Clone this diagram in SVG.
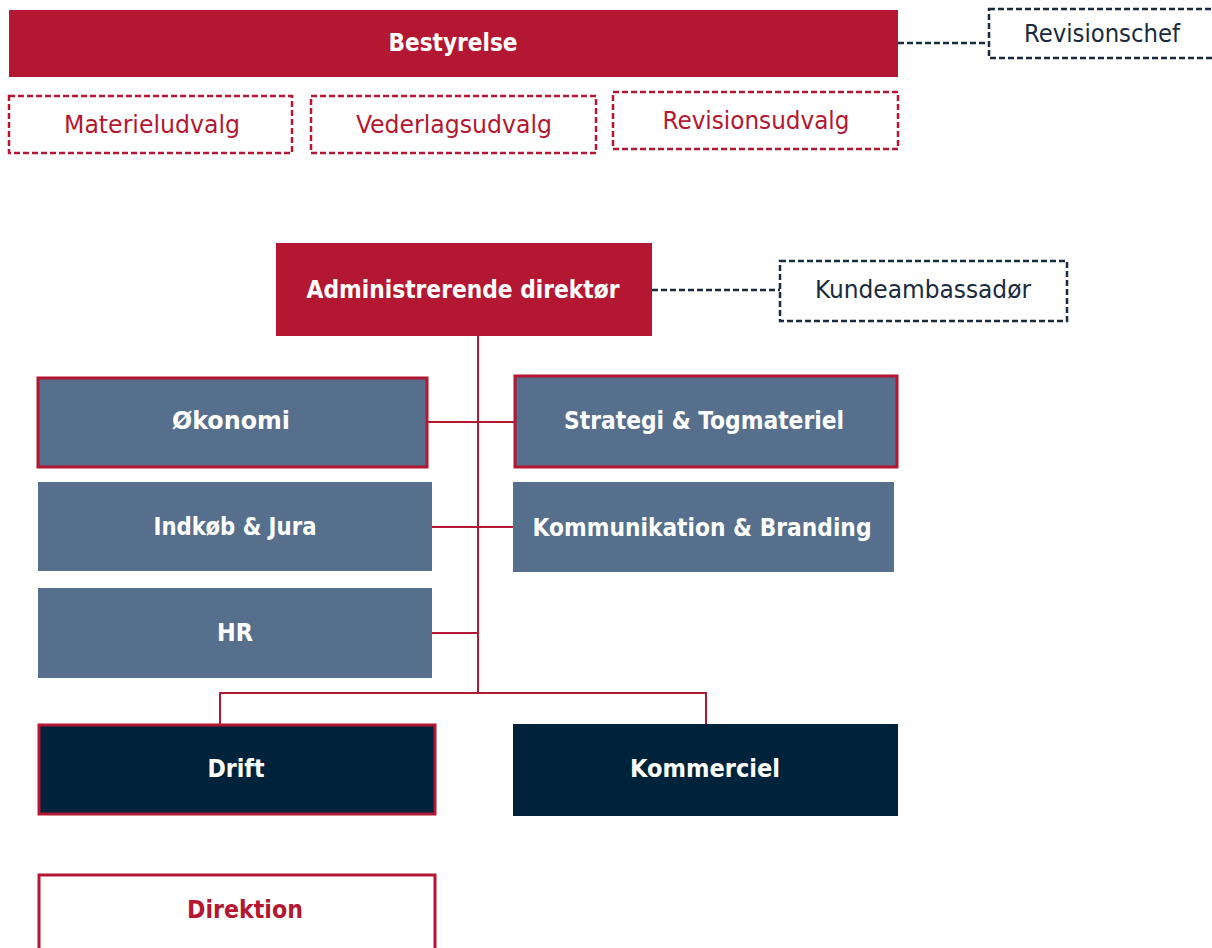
<svg xmlns="http://www.w3.org/2000/svg" width="1212" height="948" viewBox="0 0 1212 948">
<style>
.t{font-family:"DejaVu Sans Condensed","Liberation Sans",sans-serif;font-size:24px;text-anchor:middle;dominant-baseline:central}
.b{font-weight:bold;fill:#fff}
.red{fill:#B31731}
.navy{fill:#1A2B40}
.dr{fill:#fff;stroke:#B31731;stroke-width:2.5;stroke-dasharray:6 3}
.dn{fill:#fff;stroke:#1A2B40;stroke-width:2.5;stroke-dasharray:6 3}
.mid{fill:#566F8C}
.dark{fill:#00233C}
.rb{stroke:#B31731;stroke-width:3}
.ln{stroke:#B31731;stroke-width:2;fill:none}
.dl{stroke:#1A2B40;stroke-width:2.5;stroke-dasharray:6 3;fill:none}
</style>
<rect width="1212" height="948" fill="#fff"/>
<g id="connectors">
<path class="dl" d="M898 43H989"/>
<path class="dl" d="M652 290H780"/>
<path class="ln" d="M478 336V693"/>
<path class="ln" d="M427 422H514"/>
<path class="ln" d="M432 527H513"/>
<path class="ln" d="M432 633H478"/>
<path class="ln" d="M220 724V693H706V724"/>
</g>
<g id="bestyrelse"><rect x="9" y="10" width="889" height="67" fill="#B31731"/><text class="t b" x="453" y="43" textLength="129" lengthAdjust="spacingAndGlyphs">Bestyrelse</text></g>
<g id="revisionschef"><rect class="dn" x="989" y="9" width="240" height="49"/><text class="t navy" x="1102" y="34" textLength="156" lengthAdjust="spacingAndGlyphs">Revisionschef</text></g>
<g id="materieludvalg"><rect class="dr" x="9" y="96" width="283" height="57"/><text class="t red" x="152" y="125" textLength="176" lengthAdjust="spacingAndGlyphs">Materieludvalg</text></g>
<g id="vederlagsudvalg"><rect class="dr" x="311" y="96" width="285" height="57"/><text class="t red" x="454" y="125" textLength="196" lengthAdjust="spacingAndGlyphs">Vederlagsudvalg</text></g>
<g id="revisionsudvalg"><rect class="dr" x="613" y="92" width="285" height="57"/><text class="t red" x="756" y="121" textLength="187" lengthAdjust="spacingAndGlyphs">Revisionsudvalg</text></g>
<g id="adm"><rect x="276" y="243" width="376" height="93" fill="#B31731"/><text class="t b" x="463" y="290" textLength="313" lengthAdjust="spacingAndGlyphs">Administrerende direktør</text></g>
<g id="kundeambassador"><rect class="dn" x="780" y="261" width="287" height="60"/><text class="t navy" x="923" y="290" textLength="216" lengthAdjust="spacingAndGlyphs">Kundeambassadør</text></g>
<g id="okonomi"><rect class="mid rb" x="38" y="378" width="389" height="89"/><text class="t b" x="231" y="421" textLength="118" lengthAdjust="spacingAndGlyphs">Økonomi</text></g>
<g id="strategi"><rect class="mid rb" x="515" y="376" width="382" height="91"/><text class="t b" x="704" y="421" textLength="280" lengthAdjust="spacingAndGlyphs">Strategi &amp; Togmateriel</text></g>
<g id="indkob"><rect class="mid" x="38" y="482" width="394" height="89"/><text class="t b" x="235" y="527" textLength="163" lengthAdjust="spacingAndGlyphs">Indkøb &amp; Jura</text></g>
<g id="kommunikation"><rect class="mid" x="513" y="482" width="381" height="90"/><text class="t b" x="702" y="528" textLength="339" lengthAdjust="spacingAndGlyphs">Kommunikation &amp; Branding</text></g>
<g id="hr"><rect class="mid" x="38" y="588" width="394" height="90"/><text class="t b" x="235" y="633" textLength="36" lengthAdjust="spacingAndGlyphs">HR</text></g>
<g id="drift"><rect class="dark rb" x="39" y="725" width="396" height="89"/><text class="t b" x="236" y="769" textLength="57" lengthAdjust="spacingAndGlyphs">Drift</text></g>
<g id="kommerciel"><rect class="dark" x="513" y="724" width="385" height="92"/><text class="t b" x="705" y="769" textLength="150" lengthAdjust="spacingAndGlyphs">Kommerciel</text></g>
<g id="direktion"><rect x="39" y="875" width="396" height="90" fill="#fff" class="rb"/><text class="t" x="245" y="910" font-weight="bold" fill="#B31731" textLength="116" lengthAdjust="spacingAndGlyphs">Direktion</text></g>
</svg>
